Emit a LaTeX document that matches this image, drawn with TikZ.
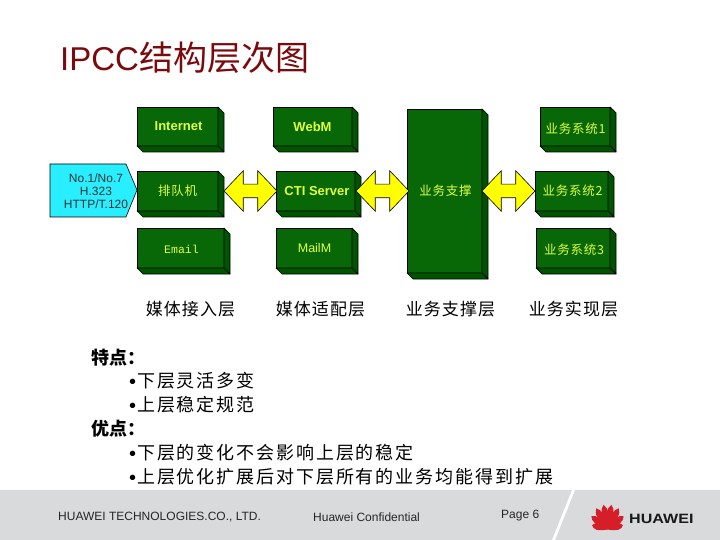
\documentclass[tikz,border=0pt]{standalone}
\usepackage{fontspec}
\usepackage{xcolor}
\usepackage{tikz}
\usetikzlibrary{arrows.meta, positioning, calc, shapes.arrows}
\setmainfont{Liberation Sans}
\newfontfamily\cjk{Noto Sans CJK SC}
\newfontfamily\cjkwide[LetterSpace=6]{Noto Sans CJK SC}
\newfontfamily\cjkwider[LetterSpace=10.5]{Noto Sans CJK SC}
\newfontfamily\boxmono{Liberation Mono}
\definecolor{slabgreen}{RGB}{8, 104, 8}
\definecolor{slabdark}{RGB}{0, 84, 0}
\definecolor{slabtext}{RGB}{225, 255, 60}
\definecolor{arrowyellow}{RGB}{255, 255, 0}
\definecolor{inputcyan}{RGB}{40, 238, 255}
\definecolor{footgrey}{RGB}{217, 218, 220}
\definecolor{logored}{RGB}{214, 30, 40}
\definecolor{titleink}{RGB}{122, 10, 12}
\newcommand{\fsz}[1]{\fontsize{#1}{#1}\selectfont}
\tikzset{
    slabfront/.style={draw=black, fill=slabgreen, text=slabtext, inner sep=0pt, outer sep=0pt, line width=0.7pt},
    slabface/.style={draw=black, fill=slabdark, line width=0.7pt, line join=round},
    swaparrow/.style={double arrow, draw=black, fill=arrowyellow, inner sep=0pt, line width=0.6pt,
        minimum width=40pt, minimum height=53pt, double arrow head extend=13.5pt, double arrow tip angle=93},
    layerlabel/.style={inner sep=0pt, font=\cjkwide\fsz{17}},
    bullettext/.style={inner sep=0pt, anchor=west, font=\cjkwider\fsz{18}},
    headtext/.style={inner sep=0pt, anchor=west, font=\cjk\bfseries\fsz{18}},
    foottext/.style={inner sep=0pt, anchor=west, font=\fsz{12}, text=black!85}
}
% name, centre, width, height, text
\newcommand{\slab}[5]{
    \node[slabfront, minimum width=#3pt, minimum height=#4pt] (#1) at (#2) {#5};
    \draw[slabface] (#1.north east) -- ++(6,6) -- ($(#1.south east)+(6,6)$) -- (#1.south east) -- cycle;
    \draw[slabface] (#1.south west) -- ++(6,6) -- ($(#1.south east)+(6,6)$) -- (#1.south east) -- cycle;
}
\newcommand{\bulletmark}{{\rmfamily\fsz{20}\raisebox{-0.5pt}{•}\kern1pt}}
\newcommand{\lowered}[2]{\raisebox{-#1pt}[\height][\depth]{#2}}
\begin{document}
\begin{tikzpicture}[x=1pt, y=-1pt]
    \useasboundingbox (0,0) rectangle (720,540);
    \fill[white] (0,0) rectangle (720,540);
    % footer band
    \fill[footgrey] (0,490) rectangle (720,540);
    \fill[white] (572,490) -- (575,490) -- (555,540) -- (552,540) -- cycle;

    \node[inner sep=0pt, anchor=west, text=titleink, font=\fsz{33}] (title) at (60,58) {IPCC{\cjk\fsz{34}结构层次图}};

    % input tag
    \draw[draw=black, fill=inputcyan, line width=0.6pt] (50,164) -- (126,164) -- (137,190) -- (126,217) -- (50,217) -- cycle;
    \node[align=center, inner sep=0pt, font=\fsz{12}, text=black!80] (proto) at (96,191) {No.1/No.7\\[1pt]H.323\\[1pt]HTTP/T.120};

    % access layer
    \slab{internet}{177.5,126.5}{81}{39}{\bfseries\fsz{13}\kern2pt Internet}
    \slab{queue}{177.5,191}{81}{40}{\cjkwide\fsz{12.5}排队机}
    \slab{email}{180.5,248}{87}{40}{\boxmono\fsz{11.5}\lowered{1}{\kern2pt Email}}
    % adapter layer
    \slab{webm}{312.5,126.5}{79}{39}{\bfseries\fsz{13}WebM}
    \slab{cti}{315.5,191}{79}{40}{\bfseries\fsz{13}\kern3pt CTI Server}
    \slab{mailm}{314,248}{76}{40}{\fsz{12.5}\kern1pt MailM}
    % support layer
    \slab{support}{444.5,191}{75}{164}{\cjkwide\fsz{12.5}\kern2pt 业务支撑}
    % service layer
    \slab{sysa}{575,126.5}{70}{39}{\cjkwide\fsz{12.5}\lowered{2}{\kern1pt 业务系统1}}
    \slab{sysb}{571.5,191}{73}{40}{\cjkwide\fsz{12.5}\kern2pt 业务系统2}
    \slab{sysc}{573,248}{74}{40}{\cjkwide\fsz{12.5}\lowered{1.5}{\kern2pt 业务系统3}}

    \node[swaparrow] (swapa) at (250.5,191) {\rule{0pt}{13pt}};
    \node[swaparrow] (swapb) at (382.5,191) {\rule{0pt}{13pt}};
    \node[swaparrow] (swapc) at (508.5,191) {\rule{0pt}{13pt}};

    \node[layerlabel] (laya) at (190.5,309) {媒体接入层};
    \node[layerlabel] (layb) at (320.5,309) {媒体适配层};
    \node[layerlabel] (layc) at (450.5,309) {业务支撑层};
    \node[layerlabel] (layd) at (573.5,309) {业务实现层};

    \node[headtext] (heada) at (91,358) {特点：};
    \node[bullettext] (notea) at (129,381) {\bulletmark 下层灵活多变};
    \node[bullettext] (noteb) at (129,405) {\bulletmark 上层稳定规范};
    \node[headtext] (headb) at (91,429) {优点：};
    \node[bullettext] (notec) at (129,453) {\bulletmark 下层的变化不会影响上层的稳定};
    \node[bullettext] (noted) at (129,477) {\bulletmark 上层优化扩展后对下层所有的业务均能得到扩展};

    \node[foottext] (company) at (58,517) {HUAWEI TECHNOLOGIES.CO., LTD.};
    \node[foottext] (secret) at (313,517) {Huawei Confidential};
    \node[foottext] (page) at (501,516) {Page 6};

    % logo petals
    \foreach \ang/\len in {-74/16, -50/21, -28/24, -9/25, 9/25, 28/24, 50/21, 74/16}{
        \fill[logored, rotate around={\ang:(607.5,529.5)}] (607.5,529.5)
            .. controls (603.2,529.5-0.55*\len) and (603.2,529.5-0.85*\len) .. (607.5,529.5-\len)
            .. controls (611.8,529.5-0.85*\len) and (611.8,529.5-0.55*\len) .. (607.5,529.5) -- cycle;
    }
    \node[inner sep=0pt, anchor=west, font=\bfseries\fsz{13.5}, text=black!90] (brand) at (629,518.5) {\scalebox{1.19}[1]{HUAWEI}};
\end{tikzpicture}
\end{document}
